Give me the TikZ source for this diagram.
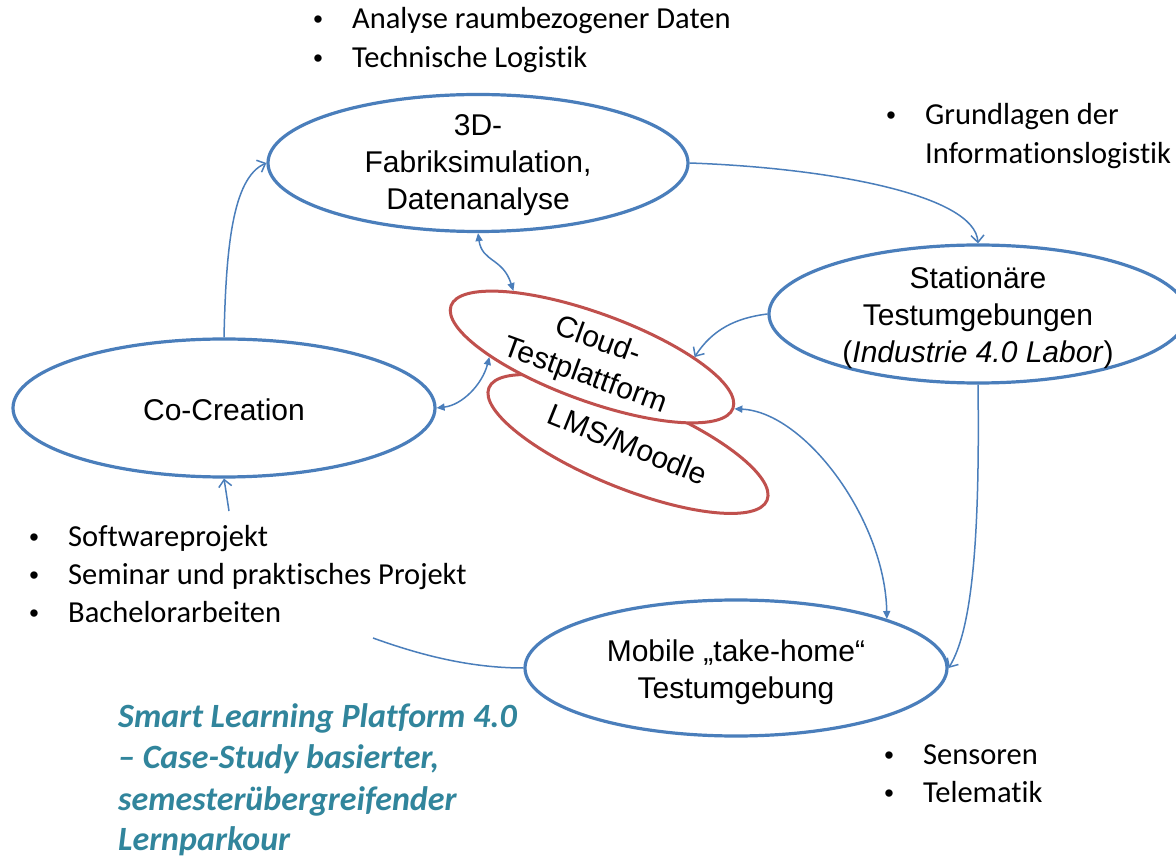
\documentclass[tikz,border=0pt]{standalone}
\usepackage{fontspec}
\setmainfont{Liberation Sans}
\newfontfamily\calibri[Ligatures={NoCommon}]{Carlito}
\usetikzlibrary{shapes.geometric,arrows.meta}
\definecolor{blueline}{HTML}{4A7EBB}
\definecolor{redline}{HTML}{C0504D}
\definecolor{titleteal}{HTML}{31859C}
\begin{document}
\begin{tikzpicture}[x=1pt,y=-1pt,
  bigell/.style={ellipse, draw=blueline, line width=3.2pt, fill=white, inner sep=0pt},
  redell/.style={ellipse, draw=redline, line width=3pt, fill=white, inner sep=0pt,
    minimum width=300pt, minimum height=88pt},
  elltext/.style={font=\fontsize{30}{37}\selectfont, align=center, inner sep=0pt},
  bul/.style={font=\calibri\fontsize{30.5}{37}\selectfont, anchor=base west, inner sep=0pt},
  ttl/.style={font=\calibri\bfseries\itshape\fontsize{34}{41}\selectfont, text=titleteal, anchor=base west, inner sep=0pt},
  conn/.style={draw=blueline, line width=1.5pt},
  barb/.style={-{Straight Barb[length=7pt,width=13pt,line width=1.5pt]}},
  dbl/.style={{Triangle[length=8pt,width=7pt]}-{Triangle[length=8pt,width=7pt]}}
]
\useasboundingbox[fill=white] (0,0) rectangle (1176,858);
\newcommand{\bu}{\llap{\makebox[68pt]{\fontspec{Liberation Sans}\fontsize{27}{30}\selectfont •}}}

% blue ellipses
\node[bigell, minimum width=420pt, minimum height=137pt,
  label={[elltext, yshift=-2pt]center:{3D-\\Fabriksimulation,\\Datenanalyse}}] (fab) at (478,163) {};
\node[bigell, minimum width=418pt, minimum height=138pt,
  label={[elltext, yshift=-4pt]center:{Stationäre\\Testumgebungen\\(\textit{Industrie 4.0 Labor})}}] (stat) at (978,314) {};
\node[bigell, minimum width=422pt, minimum height=138pt,
  label={[elltext, yshift=-2pt]center:{Co-Creation}}] (co) at (224,408) {};
\node[bigell, minimum width=422pt, minimum height=136pt,
  label={[elltext, yshift=-4pt]center:{Mobile „take-home“\\Testumgebung}}] (mob) at (736,668) {};

% red ellipses
\node[redell, rotate=-22,
  label={[elltext, rotate=-22]center:{LMS/Moodle}}] (lms) at (628,444) {};
\node[redell, rotate=-20,
  label={[elltext, rotate=-20, yshift=-2pt]center:{Cloud-\\Testplattform}}] (cloud) at (592,357) {};

% connectors
\draw[conn, barb] (co.north) .. controls (226,250) and (232,178) .. (fab.west);
\draw[conn, barb] (fab.east) .. controls (830,168) and (975,195) .. (stat.north);
\draw[conn, barb] (stat.west) .. controls (735,318) and (712,330) .. (cloud.20);
\draw[conn, barb] (stat.south) .. controls (980,540) and (972,630) .. (mob.east);
\draw[conn, dbl] (cloud.east) .. controls (805,412) and (885,520) .. (mob.18);
\draw[conn, dbl] (fab.south) .. controls (482,262) and (503,258) .. (cloud.160);
\draw[conn, dbl] (co.east) .. controls (462,405) and (482,385) .. (cloud.200);
\coordinate (c8) at (229,511);
\draw[conn, barb] (c8) -- (co.south);
\coordinate (c9) at (373,638);
\draw[conn] (mob.west) .. controls (470,668) and (420,655) .. (c9);

% bullet texts
\node[bul] (t1) at (352,29) {\bu Analyse raumbezogener Daten};
\node[bul] (t2) at (352,68) {\bu Technische Logistik};
\node[bul] (r1) at (925,125) {\bu Grundlagen der};
\node[bul] (r2) at (925,164) {Informationslogistik};
\node[bul] (l1) at (68,546) {\bu Softwareprojekt};
\node[bul] (l2) at (68,584) {\bu Seminar und praktisches Projekt};
\node[bul] (l3) at (68,622) {\bu Bachelorarbeiten};
\node[bul] (s1) at (923,764) {\bu Sensoren};
\node[bul] (s2) at (923,802) {\bu Telematik};

% title
\node[ttl] (h1) at (118,727) {Smart Learning Platform 4.0};
\node[ttl] (h2) at (118,768) {– Case-Study basierter,};
\node[ttl] (h3) at (118,810) {semesterübergreifender};
\node[ttl] (h4) at (118,850) {Lernparkour};
\end{tikzpicture}
\end{document}
